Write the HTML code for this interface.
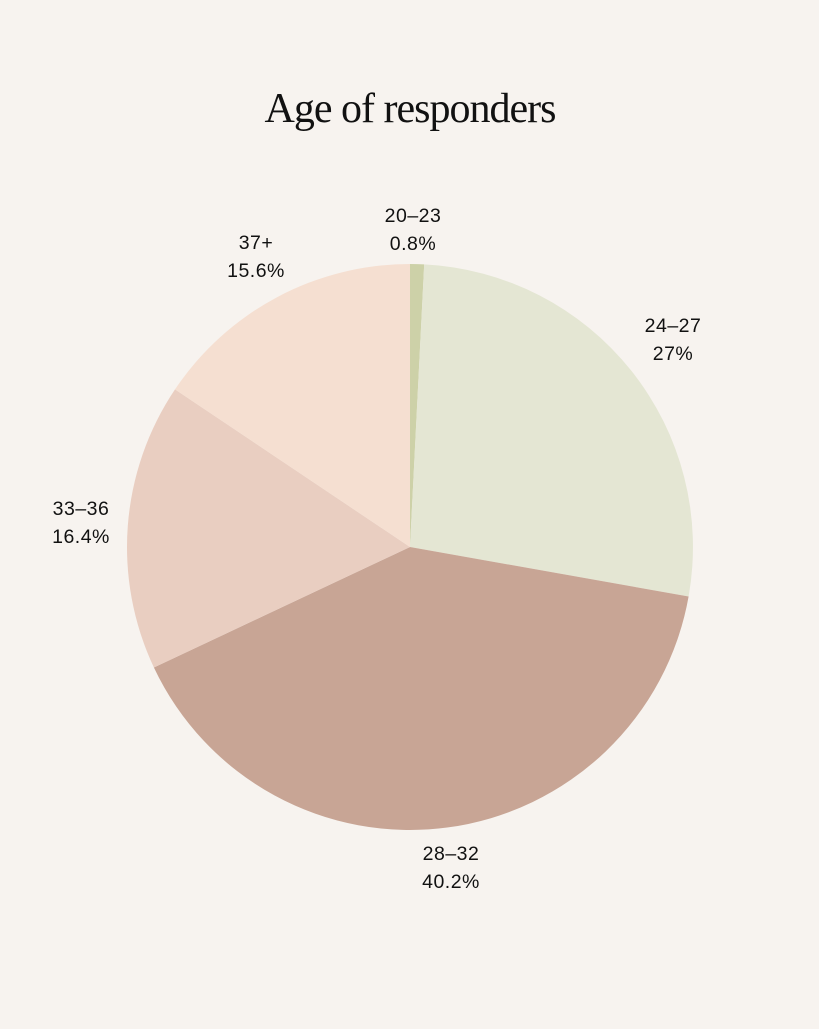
<!DOCTYPE html>
<html><head><meta charset="utf-8"><style>
html,body{margin:0;padding:0;background:#f7f3ef;}
</style></head><body>
<svg width="819" height="1024" xmlns="http://www.w3.org/2000/svg">
<rect width="819" height="1024" fill="#f7f3ef"/>
<text x="410" y="122" text-anchor="middle" font-family="Liberation Serif, serif" font-size="42" fill="#111" letter-spacing="-1">Age of responders</text>
<g>
<path d="M410,547 L410,264 A283,283 0 0 1 424.2,264.4 Z" fill="#cdd1a8"/>
<path d="M410,547 L424.2,264.4 A283,283 0 0 1 688.6,596.5 Z" fill="#e4e6d3"/>
<path d="M410,547 L688.6,596.5 A283,283 0 0 1 153.9,667.5 Z" fill="#c8a595"/>
<path d="M410,547 L153.9,667.5 A283,283 0 0 1 175,389.4 Z" fill="#e9cec1"/>
<path d="M410,547 L175,389.4 A283,283 0 0 1 410,264 Z" fill="#f5dfd1"/>
</g>
<g font-family="Liberation Sans, sans-serif" font-size="19.5" fill="#111" text-anchor="middle" letter-spacing="0.5">
<text x="413" y="222">20–23</text><text x="413" y="250">0.8%</text>
<text x="256" y="249">37+</text><text x="256" y="277">15.6%</text>
<text x="673" y="332">24–27</text><text x="673" y="360">27%</text>
<text x="81" y="515">33–36</text><text x="81" y="543">16.4%</text>
<text x="451" y="860">28–32</text><text x="451" y="888">40.2%</text>
</g>
</svg>
</body></html>
